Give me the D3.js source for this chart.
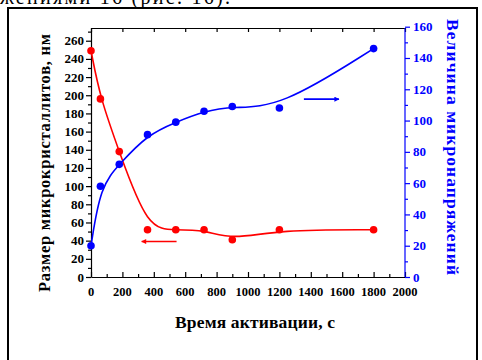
<!DOCTYPE html>
<html><head><meta charset="utf-8">
<script src="https://cdn.jsdelivr.net/npm/d3@7"></script>
<style>body{margin:0;background:#fff}svg{display:block}</style>
</head><body>
<svg id="c" width="482" height="360"></svg>
<script>
// Data
const timeS = [0, 60, 180, 360, 540, 720, 900, 1200, 1800];
const crystalliteSize = [249, 196, 138, 52, 52, 52, 41, 52, 52];      // nm, left axis
const microstrain = [20, 58, 72, 91, 99, 106, 109, 108, 146];         // right axis
const xTicks = [0, 200, 400, 600, 800, 1000, 1200, 1400, 1600, 1800, 2000];
const leftTicks = [0, 20, 40, 60, 80, 100, 120, 140, 160, 180, 200, 220, 240, 260];
const rightTicks = [0, 20, 40, 60, 80, 100, 120, 140, 160];
const redArrowX = [545, 323], redArrowY = 39;
const blueArrowX = [1356, 1579], blueArrowY = 113.7;

const svg = d3.select("#c");
const font = "'Liberation Serif','Times New Roman',serif";
const RED = "#ff0000", BLUE = "#0000ff";
const L = 91, R = 405, T = 28, B = 277;

const x = d3.scaleLinear().domain([0, 2000]).range([L, R]);
const yL = d3.scaleLinear().domain([0, 274]).range([B, T]);
const yR = d3.scaleLinear().domain([0, 160]).range([B, 26.7]);

// top text fragment (partly cut off at the top edge, as in the reference)
svg.append("text").attr("x", 0).attr("y", 4).attr("text-anchor", "start")
  .attr("font-family", font).attr("font-size", 20)
  .attr("textLength", 230).attr("lengthAdjust", "spacing").text("жениями  16 (рис. 16).");

// frame
svg.append("rect").attr("x", 8).attr("y", 8).attr("width", 469).attr("height", 380)
  .attr("fill", "none").attr("stroke", "#000").attr("stroke-width", 2);

const defs = svg.append("defs");
[["ar", RED], ["ab", BLUE]].forEach(([id, c]) => {
  defs.append("marker").attr("id", id).attr("viewBox", "0 0 10 10").attr("refX", 9).attr("refY", 5)
    .attr("markerWidth", 7).attr("markerHeight", 5).attr("markerUnits", "userSpaceOnUse").attr("orient", "auto")
    .append("path").attr("d", "M0,0L10,5L0,10Z").attr("fill", c);
});

// axes
const gx = svg.append("g").attr("transform", `translate(0,${B})`)
  .call(d3.axisBottom(x).tickValues(d3.range(0, 2001, 100)).tickSizeInner(-3).tickSizeOuter(0).tickFormat(""));
gx.selectAll(".tick line").filter(d => d % 200 === 0).attr("y2", -5);
gx.selectAll("line,path").attr("stroke", "#000").attr("stroke-width", 1.2);
svg.append("g").selectAll("text").data(xTicks).join("text")
  .attr("x", d => x(d)).attr("y", 296).attr("text-anchor", "middle")
  .attr("font-family", font).attr("font-weight", "bold").attr("font-size", 12.5).text(d => d);

const gt = svg.append("g").attr("transform", `translate(0,${T})`)
  .call(d3.axisTop(x).tickValues(xTicks).tickSizeInner(-4).tickSizeOuter(0).tickFormat(""));
gt.selectAll("line,path").attr("stroke", "#000").attr("stroke-width", 1.2);

const gl = svg.append("g").attr("transform", `translate(${L},0)`)
  .call(d3.axisLeft(yL).tickValues(d3.range(0, 271, 10)).tickSizeInner(3).tickSizeOuter(0).tickFormat(""));
gl.selectAll(".tick line").filter(d => d % 20 === 0).attr("x2", -5);
gl.selectAll("line,path").attr("stroke", "#000").attr("stroke-width", 1.2);
svg.append("g").selectAll("text").data(leftTicks).join("text")
  .attr("x", 84).attr("y", d => yL(d) + 4.5).attr("text-anchor", "end")
  .attr("font-family", font).attr("font-weight", "bold").attr("font-size", 13).text(d => d);

const gr = svg.append("g").attr("transform", `translate(${R},0)`)
  .call(d3.axisRight(yR).tickValues(d3.range(0, 161, 10)).tickSizeInner(3).tickSizeOuter(0).tickFormat(""));
gr.selectAll(".tick line").filter(d => d % 20 === 0).attr("x2", 5);
gr.select("path").attr("d", `M0,${B}V${T}`);
gr.selectAll("line,path").attr("stroke", BLUE).attr("stroke-width", 1.2);
svg.append("g").selectAll("text").data(rightTicks).join("text")
  .attr("x", 413).attr("y", d => yR(d) + 4.5).attr("text-anchor", "start").attr("fill", BLUE)
  .attr("font-family", font).attr("font-weight", "bold").attr("font-size", 13).text(d => d);

// titles
svg.append("text").attr("transform", "translate(50,163) rotate(-90)").attr("text-anchor", "middle")
  .attr("font-family", font).attr("font-weight", "bold").attr("font-size", 16.5)
  .attr("textLength", 258).attr("lengthAdjust", "spacing").text("Размер микрокристаллитов, нм");
svg.append("text").attr("transform", "translate(447,147) rotate(90)").attr("text-anchor", "middle").attr("fill", BLUE)
  .attr("font-family", font).attr("font-weight", "bold").attr("font-size", 17.5)
  .attr("textLength", 256).attr("lengthAdjust", "spacing").text("Величина микронапряжений");
svg.append("text").attr("x", 255).attr("y", 328).attr("text-anchor", "middle")
  .attr("font-family", font).attr("font-weight", "bold").attr("font-size", 17.5)
  .attr("textLength", 160).attr("lengthAdjust", "spacing").text("Время активации, с");

// curves
const redPts = timeS.map((t, i) => [t, crystalliteSize[i]]);
const bluePts = timeS.map((t, i) => [t, microstrain[i]]);
svg.append("path").attr("d", d3.line().x(d => x(d[0])).y(d => yL(d[1])).curve(d3.curveBasis)(redPts))
  .attr("fill", "none").attr("stroke", RED).attr("stroke-width", 1.6);
svg.append("path").attr("d", d3.line().x(d => x(d[0])).y(d => yR(d[1])).curve(d3.curveBasis)(bluePts))
  .attr("fill", "none").attr("stroke", BLUE).attr("stroke-width", 1.6);

svg.append("g").selectAll("circle").data(redPts).join("circle")
  .attr("cx", d => x(d[0])).attr("cy", d => yL(d[1])).attr("r", 3.8).attr("fill", RED);
svg.append("g").selectAll("circle").data(bluePts).join("circle")
  .attr("cx", d => x(d[0])).attr("cy", d => yR(d[1])).attr("r", 3.8).attr("fill", BLUE);

// arrows
svg.append("line").attr("x1", x(redArrowX[0])).attr("x2", x(redArrowX[1]))
  .attr("y1", yL(redArrowY)).attr("y2", yL(redArrowY)).attr("stroke", RED).attr("stroke-width", 1.6).attr("marker-end", "url(#ar)");
svg.append("line").attr("x1", x(blueArrowX[0])).attr("x2", x(blueArrowX[1]))
  .attr("y1", yR(blueArrowY)).attr("y2", yR(blueArrowY)).attr("stroke", BLUE).attr("stroke-width", 1.6).attr("marker-end", "url(#ab)");
</script>
</body></html>
